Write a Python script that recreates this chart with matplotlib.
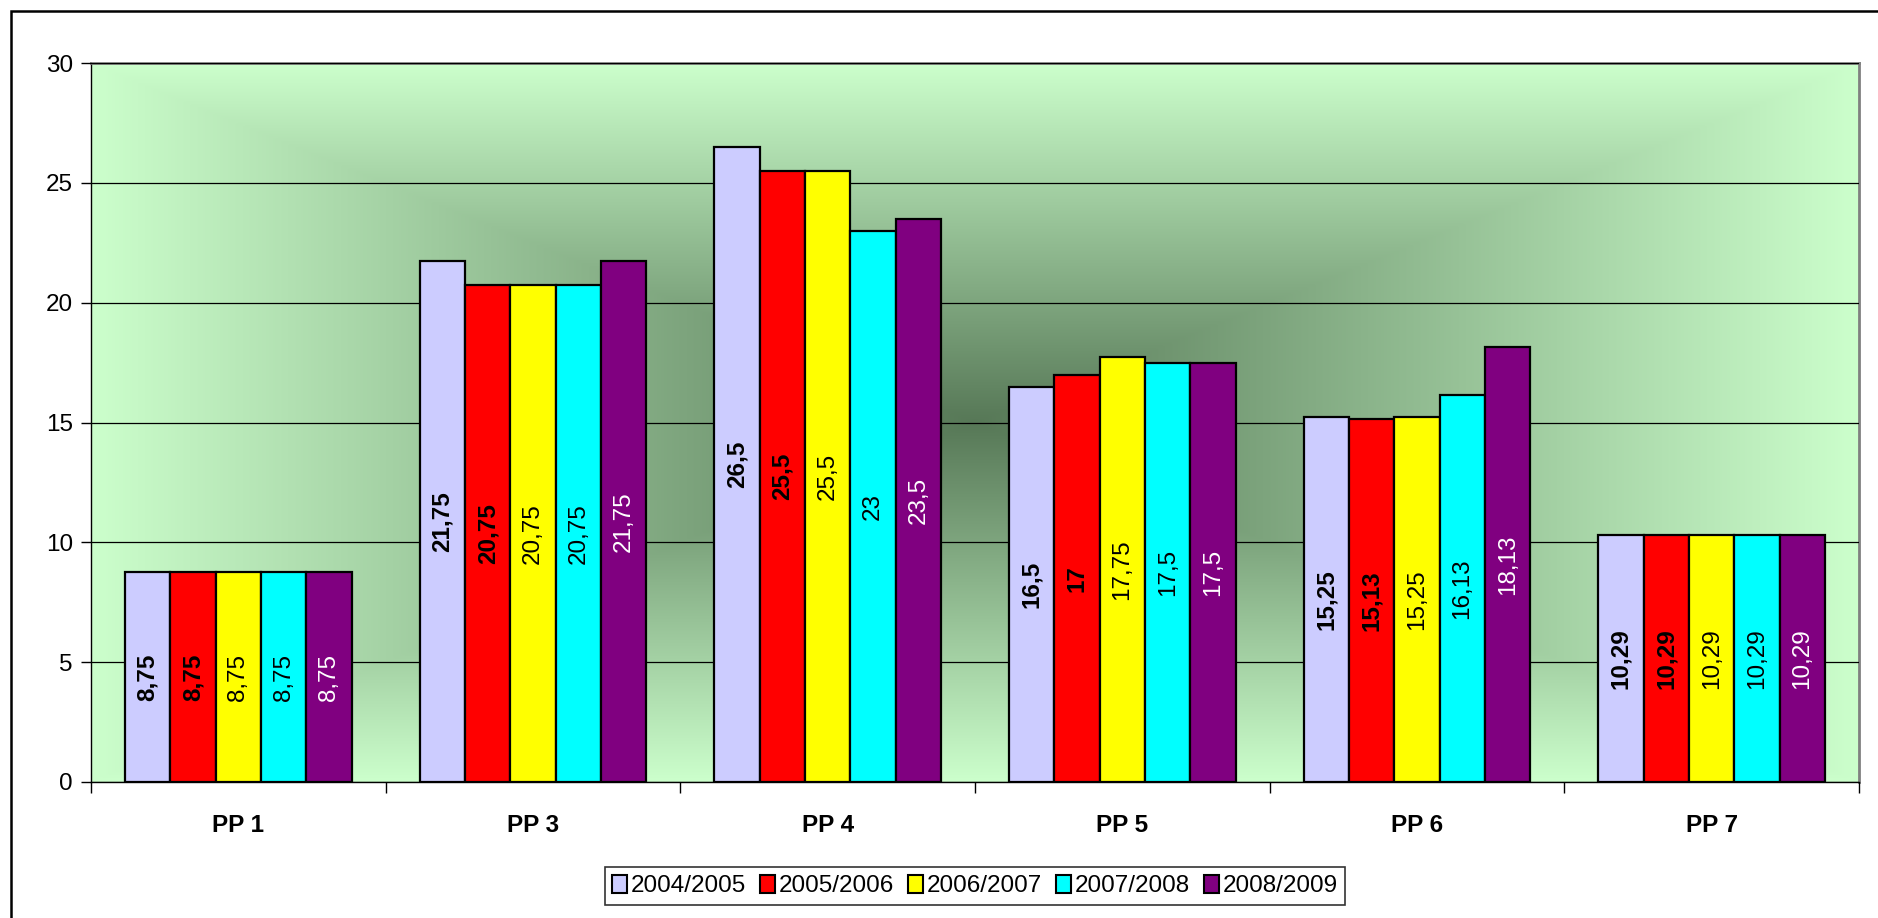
import numpy as np
import matplotlib
matplotlib.use("Agg")
import matplotlib.pyplot as plt
from matplotlib.patches import Rectangle, Patch

plt.rcParams['font.family'] = ['Liberation Sans', 'DejaVu Sans']

categories = ["PP 1", "PP 3", "PP 4", "PP 5", "PP 6", "PP 7"]
seasons = ["2004/2005", "2005/2006", "2006/2007", "2007/2008", "2008/2009"]
v_2004 = [8.75, 21.75, 26.5, 16.5, 15.25, 10.29]
v_2005 = [8.75, 20.75, 25.5, 17, 15.13, 10.29]
v_2006 = [8.75, 20.75, 25.5, 17.75, 15.25, 10.29]
v_2007 = [8.75, 20.75, 23, 17.5, 16.13, 10.29]
v_2008 = [8.75, 21.75, 23.5, 17.5, 18.13, 10.29]
series = [v_2004, v_2005, v_2006, v_2007, v_2008]

colors = ["#CCCCFF", "#FF0000", "#FFFF00", "#00FFFF", "#800080"]
label_colors = ["black", "black", "black", "black", "white"]
label_weights = ["bold", "bold", "normal", "normal", "normal"]

W, H = 1878, 918
fig = plt.figure(figsize=(W / 100, H / 100), dpi=100)
ax = fig.add_axes([91 / W, 1 - 782 / H, (1859 - 91) / W, (782 - 63) / H])

# background: centre gradient, dark green in the middle, light green at the edges
gx = np.linspace(-1, 1, 600)
gy = np.linspace(-1, 1, 300)
X, Y = np.meshgrid(gx, gy)
t = np.clip(np.maximum(np.abs(X), np.abs(Y)), 0, 1)
dark = np.array([0.34, 0.47, 0.34])
light = np.array([0.80, 1.00, 0.80])
img = dark[None, None, :] + (light - dark)[None, None, :] * t[..., None]
ax.imshow(img, extent=(-0.5, 5.5, 0, 30), aspect="auto", zorder=0, interpolation="bilinear")

n = len(series)
w = 1.0 / (n + 1.5)
x = np.arange(len(categories))
for i, vals in enumerate(series):
    xs = x + (i - (n - 1) / 2) * w
    ax.bar(xs, vals, width=w, color=colors[i], edgecolor="black", linewidth=1.6, zorder=3)
    for xi, v in zip(xs, vals):
        ax.text(xi, v / 2, f"{v:g}".replace(".", ","), rotation=90, ha="center", va="center",
                fontsize=17.5, color=label_colors[i], fontweight=label_weights[i], zorder=4)

ax.set_xlim(-0.5, 5.5)
ax.set_ylim(0, 30)
ax.set_yticks(np.arange(0, 31, 5))
ax.yaxis.grid(True, color="black", linewidth=0.9, zorder=1)
ax.set_axisbelow(False)
ax.tick_params(axis="y", direction="out", length=7, width=1, labelsize=17.5, pad=6)

ax.set_xticks(x)
ax.set_xticklabels(categories, fontsize=17.5, fontweight="bold")
ax.tick_params(axis="x", which="major", length=0, pad=23)
ax.set_xticks(np.arange(-0.5, 6, 1), minor=True)
ax.tick_params(axis="x", which="minor", direction="out", length=8, width=1)

for s in ("top", "right"):
    ax.spines[s].set_color("#808080")
    ax.spines[s].set_linewidth(2)
for s in ("left", "bottom"):
    ax.spines[s].set_color("black")
    ax.spines[s].set_linewidth(1)
ax.spines["bottom"].set_zorder(5)

handles = [Patch(facecolor=c, edgecolor="black", linewidth=1.5) for c in colors]
leg = fig.legend(handles, seasons, loc="center", bbox_to_anchor=(975 / W, 1 - 886 / H),
                 ncol=5, fontsize=17.5, frameon=True, fancybox=False, edgecolor="black",
                 handlelength=0.6, handleheight=0.8, handletextpad=0.15, columnspacing=0.6,
                 borderpad=0.3)
leg.get_frame().set_linewidth(1.2)

# outer chart border
fig.patches.append(Rectangle((11 / W, -0.05), 1.2, 1 - 11 / H + 0.05, transform=fig.transFigure,
                             fill=False, edgecolor="black", linewidth=1.8))

fig.savefig("out.png", dpi=100)
